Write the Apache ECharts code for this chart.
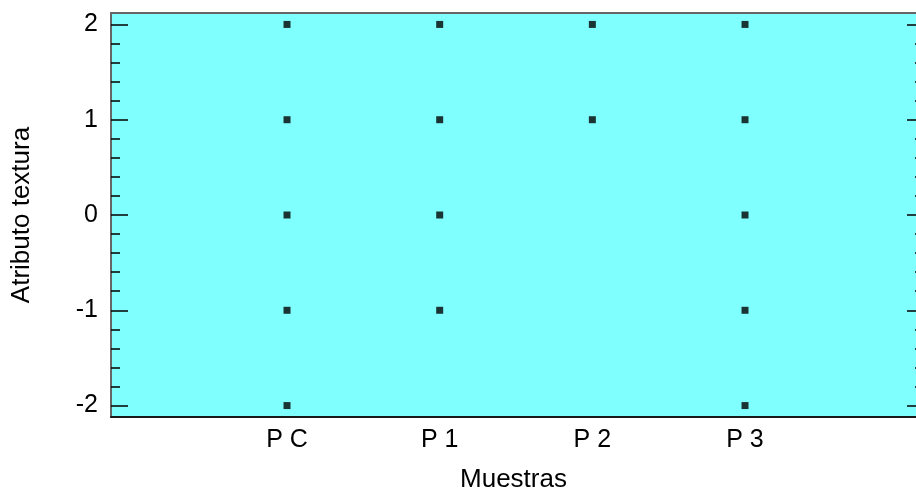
<!DOCTYPE html>
<html>
<head>
<meta charset="utf-8">
<script src="https://cdn.jsdelivr.net/npm/echarts@6/dist/echarts.min.js"></script>
<style>
html,body{margin:0;padding:0;background:#fff;}
#chart{width:916px;height:491px;}
</style>
</head>
<body>
<div id="chart"></div>
<script>
// ---- data ----
var samples = ['P C', 'P 1', 'P 2', 'P 3'];
var valuesPC = [2, 1, 0, -1, -2];
var valuesP1 = [2, 1, 0, -1];
var valuesP2 = [2, 1];
var valuesP3 = [2, 1, 0, -1, -2];
var yTickValues = [-2, -1, 0, 1, 2];
var xAxisTitle = 'Muestras';
var yAxisTitle = 'Atributo textura';

var perSample = [valuesPC, valuesP1, valuesP2, valuesP3];
var points = [];
perSample.forEach(function (vals, i) {
  vals.forEach(function (v) { points.push([i, v]); });
});
var minorTicks = [];
for (var k = -10; k <= 10; k++) { minorTicks.push(k / 5); }
var xIdx = samples.map(function (s, i) { return i; });

var FONT = 'Liberation Sans, Arial, sans-serif';
var yMin = -2.12, yMax = 2.12;
var xMin = -1.153, xMax = 4.12;

function yAx(pos, len, vals, showLine, lineColor, showLabel) {
  return {
    type: 'value', position: pos, min: yMin, max: yMax,
    axisLine: { show: showLine, onZero: false, lineStyle: { color: lineColor, width: 2 } },
    axisTick: { show: true, inside: true, length: len, customValues: vals,
      lineStyle: { color: '#000', width: 1.5 } },
    axisLabel: { show: showLabel, customValues: vals, margin: 13,
      color: '#000', fontSize: 25, fontFamily: FONT },
    splitLine: { show: false }
  };
}

var chart = echarts.init(document.getElementById('chart'), null, { renderer: 'canvas' });
chart.setOption({
  animation: false,
  grid: { left: 111, top: 13, bottom: 74, right: 0, show: true,
    outerBoundsMode: 'none', containLabel: false,
    backgroundColor: '#80FFFF', borderWidth: 0 },
  xAxis: [
    { type: 'value', position: 'bottom', min: xMin, max: xMax,
      name: xAxisTitle, nameLocation: 'middle', nameGap: 50,
      nameTextStyle: { color: '#000', fontSize: 26, fontFamily: FONT },
      axisLine: { show: true, onZero: false, lineStyle: { color: '#1a1a1a', width: 2 } },
      axisTick: { show: false },
      axisLabel: { customValues: xIdx, margin: 11, color: '#000', fontSize: 25,
        fontFamily: FONT, formatter: function (v) { return samples[Math.round(v)]; } },
      splitLine: { show: false } },
    { type: 'value', position: 'top', min: xMin, max: xMax,
      axisLine: { show: true, onZero: false, lineStyle: { color: '#666', width: 2 } },
      axisTick: { show: false }, axisLabel: { show: false }, splitLine: { show: false } }
  ],
  yAxis: [
    Object.assign(yAx('left', 17, yTickValues, true, '#666', true), {
      name: yAxisTitle, nameLocation: 'middle', nameGap: 76,
      nameTextStyle: { color: '#000', fontSize: 26, fontFamily: FONT } }),
    yAx('left', 9, minorTicks, false, '#666', false),
    yAx('right', 9, yTickValues, false, '#000', false),
    yAx('right', 1, minorTicks, false, '#000', false)
  ],
  series: [{
    type: 'scatter', xAxisIndex: 0, yAxisIndex: 0,
    symbol: 'rect', symbolSize: 7,
    itemStyle: { color: '#000' },
    data: points
  }]
});
</script>
</body>
</html>
